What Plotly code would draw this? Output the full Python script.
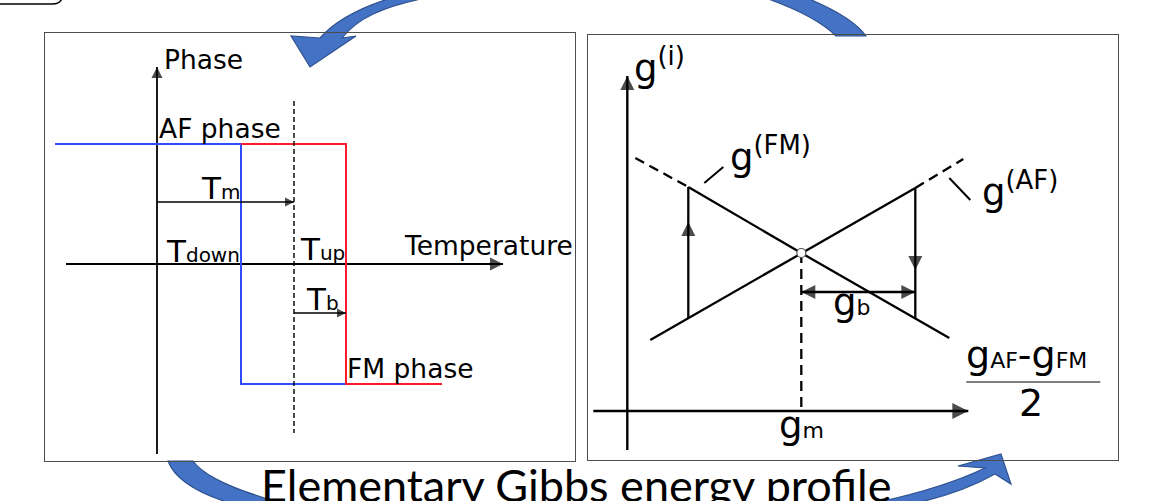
import plotly.graph_objects as go

W, H = 1175, 501

# ---------------- Left panel: phase vs temperature (panel units) ----------------
T_down, T_m, T_up = 84, 137, 189
AF_level, FM_level = 120, -120
cool_T = [-102, T_down, T_down, T_up]            # blue branch
cool_phase = [AF_level, AF_level, FM_level, FM_level]
heat_T = [T_down, T_up, T_up, 285]               # red branch
heat_phase = [AF_level, AF_level, FM_level, FM_level]
T_axis = [-91, 346]
phase_axis = [-190, 197]
Tm_dash = [163, -169]
Tm_arrow_y = 62
Tb_arrow_y = -49

# ---------------- Right panel: elementary Gibbs energy profile ----------------
g_m, g_b, g_cross = 174, 114, 158
gFM_x = [8, 61, 174, 322]
gFM_y = [253, 224, 158, 73]
gAF_x = [23, 174, 288, 336]
gAF_y = [71, 158, 223, 252]
jump_x = [61, 288]
jump_from = [93, 223]
jump_to = [224, 93]
jump_head = [189, 141]
gb_arrow_y = 119
g_axis = [-39, 335]
gdiff_axis = [-34, 341]
fm_tick_x, fm_tick_y = [77, 96], [228, 244]
af_tick_x, af_tick_y = [322, 343], [233, 211]
frac_x = [339, 473]
frac_y = 29

FONT = "DejaVu Sans"
fig = go.Figure()


def line(x, y, xa="x", ya="y", color="black", width=2.0, dash="solid"):
    fig.add_trace(go.Scatter(x=x, y=y, mode="lines", xaxis=xa, yaxis=ya,
                             line=dict(color=color, width=width, dash=dash),
                             hoverinfo="skip", showlegend=False))


def heads(x, y, symbols, size, xa="x", ya="y"):
    fig.add_trace(go.Scatter(x=x, y=y, mode="markers", xaxis=xa, yaxis=ya,
                             marker=dict(symbol=symbols, size=size, color="black",
                                         line=dict(width=0)),
                             hoverinfo="skip", showlegend=False))


# ---- left panel marks
line(T_axis, [0, 0], width=1.8)
line([0, 0], phase_axis, width=1.8)
line(cool_T, cool_phase, color="#2f4dff", width=2)
line(heat_T, heat_phase, color="#ff1a2e", width=2)
line([T_m, T_m], Tm_dash, width=1.4, dash="5px,3px")
line([0, T_m], [Tm_arrow_y] * 2, width=1.4)
line([T_m, T_up], [Tb_arrow_y] * 2, width=1.4)
heads([0, T_axis[1], T_m, T_up], [phase_axis[1], 0, Tm_arrow_y, Tb_arrow_y],
      ["arrow-up", "arrow-right", "arrow-right", "arrow-right"], [11, 13, 9, 9])

# ---- right panel marks
R = dict(xa="x2", ya="y2")
line(gdiff_axis, [0, 0], width=2.4, **R)
line([0, 0], g_axis, width=2.4, **R)
line(gFM_x[:2], gFM_y[:2], width=2.3, dash="10px,6px", **R)
line(gFM_x[1:], gFM_y[1:], width=2.3, **R)
line(gAF_x[:3], gAF_y[:3], width=2.3, **R)
line(gAF_x[2:], gAF_y[2:], width=2.3, dash="10px,6px", **R)
for jx, j0, j1 in zip(jump_x, jump_from, jump_to):
    line([jx, jx], [j0, j1], width=2.3, **R)
line([g_m, g_m], [g_cross, 0], width=2.3, dash="10px,6px", **R)
line([g_m, g_m + g_b], [gb_arrow_y] * 2, width=2.3, **R)
line(fm_tick_x, fm_tick_y, width=2, **R)
line(af_tick_x, af_tick_y, width=2, **R)
line(frac_x, [frac_y] * 2, color="#7f7f7f", width=2, **R)
heads([0, gdiff_axis[1], jump_x[0], jump_x[1], g_m, g_m + g_b],
      [g_axis[1], 0, jump_head[0], jump_head[1], gb_arrow_y, gb_arrow_y],
      ["arrow-up", "arrow-right", "arrow-up", "arrow-down", "arrow-left", "arrow-right"],
      [14, 16, 14, 14, 14, 14], **R)
fig.add_trace(go.Scatter(x=[g_m], y=[g_cross], mode="markers", xaxis="x2", yaxis="y2",
                         marker=dict(symbol="circle", size=9, color="white",
                                     line=dict(color="#555555", width=1.2)),
                         hoverinfo="skip", showlegend=False))

# ---- text
def label(text, x, y, size, xa="x", ya="y", xanchor="left"):
    fig.add_annotation(text=text, x=x, y=y, xref=xa, yref=ya, xanchor=xanchor,
                       yanchor="bottom", showarrow=False,
                       font=dict(family=FONT, size=size, color="black"))


def small(t, s):
    return f'<span style="font-size:{s}px">{t}</span>'


label("Phase", 5, 187, 26.5)
label("AF phase", 0, 118, 26.5)
label("FM phase", 188, -122, 26.5)
label("Temperature", 245, 1, 26.5)
label("T" + small("m", 20), 42, 56, 31)
label("T" + small("down", 20), 7, -7, 31)
label("T" + small("up", 20), 141, -5, 31)
label("T" + small("b", 20), 147, -55, 31)

label("g<sup>(i)</sup>", 5, 319, 37, "x2", "y2")
label("g<sup>(FM)</sup>", 101, 230, 37, "x2", "y2")
label("g<sup>(AF)</sup>", 353, 195, 37, "x2", "y2")
label("g" + small("b", 22), 204, 85, 37, "x2", "y2")
label("g" + small("m", 22), 150, -38, 37, "x2", "y2")
label("g" + small("AF", 22) + "-g" + small("FM", 22), 337, 32, 38, "x2", "y2")
label("2", 404, -16, 38, "x2", "y2", xanchor="center")

fig.add_annotation(text="Elementary Gibbs energy profile", x=576 / W, y=1 - 485 / H,
                   xref="paper", yref="paper", xanchor="center", yanchor="middle",
                   showarrow=False, font=dict(family="Lato", size=45, color="black"))

# ---- decorative blue arrows (pixel -> paper)
def path(cmds):
    out = []
    for c in cmds:
        if isinstance(c, str):
            out.append(c)
        else:
            out.append(f"{c[0] / W:.5f},{1 - c[1] / H:.5f}")
    return " ".join(out)


arrow_style = dict(type="path", xref="paper", yref="paper", fillcolor="#4472C4",
                   line=dict(color="#2F528F", width=1.2), layer="below")
fig.add_shape(path=path(["M", (291, 36), "L", (310, 67), "L", (356, 36), "L", (342, 38),
                         "C", (356, 20), (380, 6), (436, -4), "L", (398, -4),
                         "C", (356, 8), (334, 22), (320, 38), "Z"]), **arrow_style)
fig.add_shape(path=path(["M", (760, -4), "L", (802, -4), "C", (832, 8), (856, 22), (866, 36),
                         "L", (836, 36), "C", (820, 20), (795, 8), (760, -4), "Z"]),
              **arrow_style)
fig.add_shape(path=path(["M", (168, 461), "L", (193, 461), "C", (205, 478), (240, 492), (292, 506),
                         "L", (240, 506), "C", (200, 495), (175, 480), (168, 461), "Z"]),
              **arrow_style)
fig.add_shape(path=path(["M", (860, 506), "C", (920, 494), (960, 480), (985, 468),
                         "L", (958, 466), "L", (1001, 454), "L", (1011, 484), "L", (995, 474),
                         "C", (970, 488), (935, 500), (900, 506), "Z"]), **arrow_style)
fig.add_shape(type="path", xref="paper", yref="paper",
              path=path(["M", (-2, 4), "L", (52, 4), "Q", (62, 4), (62, -4)]),
              line=dict(color="black", width=1.5))

ax = dict(showgrid=False, zeroline=False, showticklabels=False, ticks="",
          showline=True, mirror=True, linecolor="#4d4d4d", linewidth=1.3, fixedrange=True)
fig.update_layout(
    width=W, height=H, margin=dict(l=0, r=0, t=0, b=0),
    paper_bgcolor="white", plot_bgcolor="white", showlegend=False,
    xaxis=dict(domain=[45 / W, 575 / W], range=[-112, 418], anchor="y", **ax),
    yaxis=dict(domain=[1 - 461 / H, 1 - 33 / H], range=[-197, 231], anchor="x", **ax),
    xaxis2=dict(domain=[588 / W, 1118 / W], range=[-39.3, 490.7], anchor="y2", **ax),
    yaxis2=dict(domain=[1 - 460 / H, 1 - 35 / H], range=[-49, 376], anchor="x2", **ax),
)

fig.write_html("out.html", config={"displayModeBar": False, "staticPlot": True},
               post_script="document.body.style.margin='0';document.body.style.overflow='hidden';")
